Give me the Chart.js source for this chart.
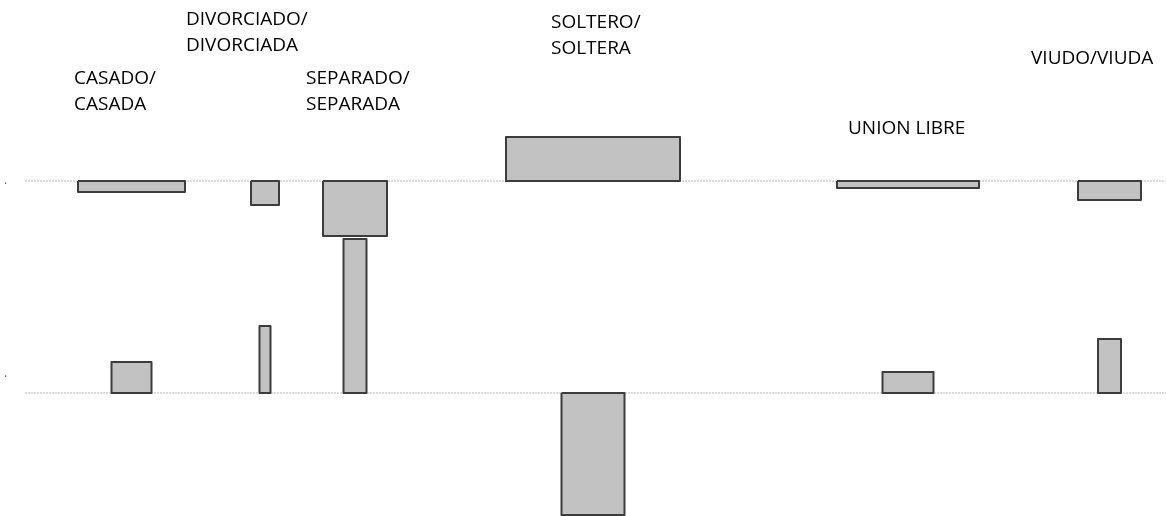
<!DOCTYPE html>
<html>
<head>
<meta charset="utf-8">
<script src="https://cdn.jsdelivr.net/npm/chart.js@4"></script>
<style>
  body { margin: 0; background: #fff; }
  #wrap { width: 1166px; height: 516px; }
</style>
</head>
<body>
<div id="wrap"><canvas id="chart"></canvas></div>
<script>
// association plot: one box per cell, width ~ sqrt(expected), height ~ residual
const categories = [['CASADO/', 'CASADA'], ['DIVORCIADO/', 'DIVORCIADA'], ['SEPARADO/', 'SEPARADA'], ['SOLTERO/', 'SOLTERA'], ['UNION LIBRE'], ['VIUDO/VIUDA']];
const centers = [13.15, 26.5, 35.5, 59.3, 90.8, 110.95];
const widthsTop = [10.7, 2.8, 6.4, 17.4, 14.2, 6.3];
const widthsBottom = [4.0, 1.1, 2.3, 6.3, 5.1, 2.3];
const residTop = [-1.1, -2.4, -5.5, 4.4, -0.7, -1.9];
const residBottom = [3.1, 6.7, 15.4, -12.2, 2.1, 5.4];
const rowBase = [0, -21.2];
const rowTicks = ['·', '·'];
const labelX = [7.4, 18.6, 30.6, 55.1, 84.8, 103.1];
const labelY = [10.4, 16.3, 10.4, 16.0, 5.4, 12.4];

function box(c, w, base, r) {
  const x0 = c - w / 2, x1 = c + w / 2;
  return [
    { x: x0, y: base }, { x: x1, y: base }, { x: x1, y: base + r },
    { x: x0, y: base + r }, { x: x0, y: base }
  ];
}

const datasets = [];
rowBase.forEach(b => {
  datasets.push({
    data: [{ x: 2.5, y: b }, { x: 116.6, y: b }],
    borderColor: '#b8b8b8',
    borderWidth: 1,
    borderDash: [2, 1],
    pointRadius: 0,
    fill: false,
    order: 2
  });
});
categories.forEach((cat, i) => {
  [[widthsTop, residTop, rowBase[0]], [widthsBottom, residBottom, rowBase[1]]].forEach(([w, r, b]) => {
    datasets.push({
      data: box(centers[i], w[i], b, r[i]),
      borderColor: '#3c3c3c',
      backgroundColor: '#c2c2c2',
      borderWidth: 2,
      borderJoinStyle: 'round',
      pointRadius: 0,
      tension: 0,
      fill: 'shape',
      order: 1
    });
  });
});

const labelPlugin = {
  id: 'labels',
  afterDraw(chart) {
    const ctx = chart.ctx;
    const xs = chart.scales.x, ys = chart.scales.y;
    ctx.save();
    ctx.fillStyle = '#000';
    ctx.font = '19px "Open Sans"';
    ctx.textAlign = 'left';
    ctx.textBaseline = 'alphabetic';
    categories.forEach((lines, i) => {
      lines.forEach((t, j) => {
        // labelY is the middle of the capitals; shift down half a cap height
        ctx.fillText(t, xs.getPixelForValue(labelX[i]), ys.getPixelForValue(labelY[i]) + 6.8 + j * 26.5);
      });
    });
    ctx.fillStyle = '#555';
    ctx.font = '12px "Open Sans"';
    ctx.textBaseline = 'middle';
    rowTicks.forEach((t, k) => {
      ctx.fillText(t, xs.getPixelForValue(0.4), ys.getPixelForValue(rowBase[k]) + (k === 0 ? 4 : -15));
    });
    ctx.restore();
  }
};

new Chart(document.getElementById('chart'), {
  type: 'line',
  data: { datasets },
  options: {
    responsive: true,
    maintainAspectRatio: false,
    animation: false,
    layout: { padding: 0 },
    plugins: { legend: { display: false }, tooltip: { enabled: false } },
    scales: {
      x: { type: 'linear', min: 0, max: 116.6, display: false },
      y: { type: 'linear', min: -33.5, max: 18.1, display: false }
    }
  },
  plugins: [labelPlugin]
});
</script>
</body>
</html>
